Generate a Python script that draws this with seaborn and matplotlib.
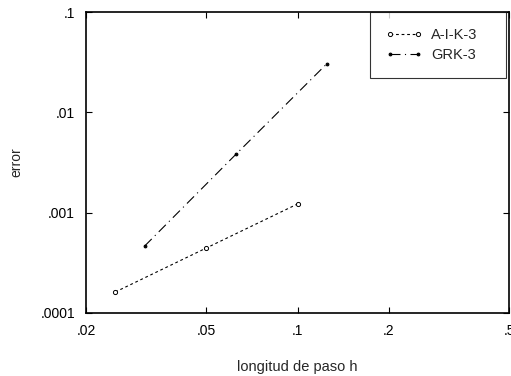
import matplotlib
matplotlib.use("Agg")
import matplotlib.pyplot as plt
import seaborn as sns
import pandas as pd
from matplotlib.ticker import FixedLocator, FixedFormatter, NullLocator

sns.set_theme(style="white")
plt.rcParams['font.family'] = ['Liberation Sans', 'DejaVu Sans']

aik_h = [0.025, 0.05, 0.1]
aik_err = [1.62e-4, 4.45e-4, 1.22e-3]
grk_h = [0.03125, 0.0625, 0.125]
grk_err = [4.65e-4, 3.8e-3, 0.0305]

xticks = [0.02, 0.05, 0.1, 0.2, 0.5]
xlabels = ['.02', '.05', '.1', '.2', '.5']
yticks = [0.0001, 0.001, 0.01, 0.1]
ylabels = ['.0001', '.001', '.01', '.1']

fig = plt.figure(figsize=(5.11, 3.76), dpi=100)
ax = fig.add_axes([86/511, (376-313)/376, (509-86)/511, (313-12)/376])

sns.lineplot(x=aik_h, y=aik_err, ax=ax, color='black', linewidth=0.8,
             marker='o', markersize=3, markerfacecolor='white', markeredgecolor='black',
             markeredgewidth=0.7, label='A-I-K-3')
ax.lines[-1].set_dashes([2.5, 2.5])
sns.lineplot(x=grk_h, y=grk_err, ax=ax, color='black', linewidth=0.8,
             marker='o', markersize=2, markerfacecolor='black', markeredgecolor='black',
             label='GRK-3')
ax.lines[-1].set_dashes([9, 4, 1, 4])

ax.set_xscale('log')
ax.set_yscale('log')
ax.set_xlim(0.02, 0.5)
ax.set_ylim(0.0001, 0.1)
ax.xaxis.set_major_locator(FixedLocator(xticks))
ax.xaxis.set_major_formatter(FixedFormatter(xlabels))
ax.xaxis.set_minor_locator(NullLocator())
ax.yaxis.set_major_locator(FixedLocator(yticks))
ax.yaxis.set_major_formatter(FixedFormatter(ylabels))
ax.yaxis.set_minor_locator(NullLocator())
ax.tick_params(direction='in', length=4, width=0.8, labelsize=10, colors='black',
               top=True, right=True, bottom=True, left=True)
ax.tick_params(axis='x', pad=8)
ax.tick_params(axis='y', pad=8)
for s in ax.spines.values():
    s.set_color('black')
    s.set_linewidth(1.2)
ax.set_xlabel('longitud de paso h', fontsize=10.5, labelpad=16)
ax.set_ylabel('error', fontsize=10, labelpad=12)

lx0 = (370 - 86) / 423
lx1 = (506 - 86) / 423
leg = ax.legend(loc='upper left', fontsize=10.5, numpoints=2, handlelength=2.5,
                frameon=True, fancybox=False, borderaxespad=0.0, mode='expand',
                bbox_to_anchor=(lx0, 0.0, lx1 - lx0, 1.0), borderpad=1.1,
                labelspacing=0.4, handletextpad=0.6)
leg.get_frame().set_edgecolor('black')
leg.get_frame().set_linewidth(0.8)

fig.savefig('out.png', dpi=100)
